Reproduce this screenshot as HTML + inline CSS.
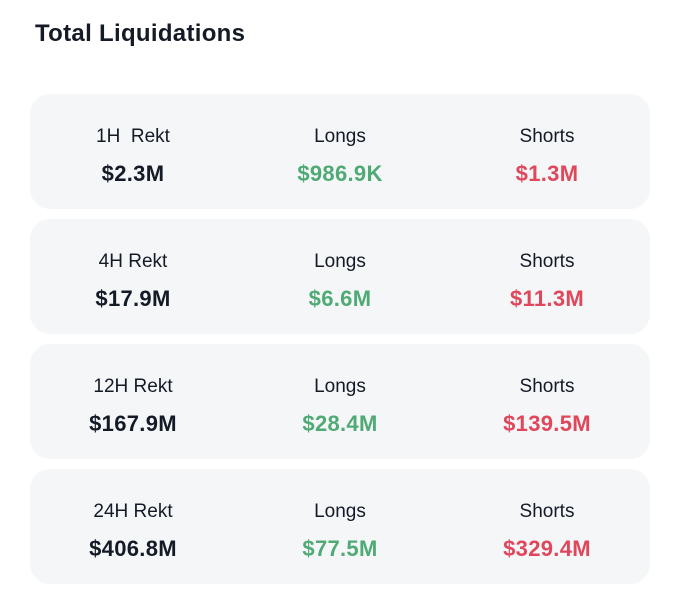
<!DOCTYPE html>
<html><head><style>
body{margin:0;width:680px;height:613px;background:#fff;font-family:"Liberation Sans",sans-serif;color:#141a26;position:relative;overflow:hidden}
.t{position:absolute;left:35px;top:20px;font-size:24px;font-weight:bold;letter-spacing:0.3px}
.c{position:absolute;left:30px;width:620px;height:115px;background:#f5f6f8;border-radius:20px}
.l{position:absolute;top:32px;width:200px;font-size:19px;text-align:center}
.v{position:absolute;top:67px;width:200px;font-size:22px;font-weight:bold;text-align:center;letter-spacing:0.3px}
.g{color:#4faa75}.r{color:#e0475b}
</style></head><body>
<div class="t">Total Liquidations</div>
<div class="c" style="top:94px">
<div class="l" style="left:3px">1H&nbsp; Rekt</div><div class="v" style="left:3px">$2.3M</div>
<div class="l" style="left:210px">Longs</div><div class="v g" style="left:210px">$986.9K</div>
<div class="l" style="left:417px">Shorts</div><div class="v r" style="left:417px">$1.3M</div>
</div>
<div class="c" style="top:219px">
<div class="l" style="left:3px">4H Rekt</div><div class="v" style="left:3px">$17.9M</div>
<div class="l" style="left:210px">Longs</div><div class="v g" style="left:210px">$6.6M</div>
<div class="l" style="left:417px">Shorts</div><div class="v r" style="left:417px">$11.3M</div>
</div>
<div class="c" style="top:344px">
<div class="l" style="left:3px">12H Rekt</div><div class="v" style="left:3px">$167.9M</div>
<div class="l" style="left:210px">Longs</div><div class="v g" style="left:210px">$28.4M</div>
<div class="l" style="left:417px">Shorts</div><div class="v r" style="left:417px">$139.5M</div>
</div>
<div class="c" style="top:469px">
<div class="l" style="left:3px">24H Rekt</div><div class="v" style="left:3px">$406.8M</div>
<div class="l" style="left:210px">Longs</div><div class="v g" style="left:210px">$77.5M</div>
<div class="l" style="left:417px">Shorts</div><div class="v r" style="left:417px">$329.4M</div>
</div>
</body></html>
